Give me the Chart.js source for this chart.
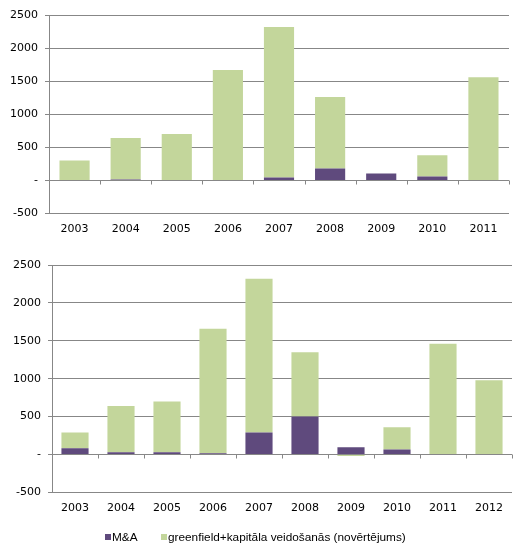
<!DOCTYPE html>
<html>
<head>
<meta charset="utf-8">
<script src="https://cdn.jsdelivr.net/npm/chart.js@4"></script>
<style>
  html, body { margin: 0; padding: 0; background: #fff; }
  #wrap { position: relative; width: 526px; height: 553px; overflow: hidden; }
  .box { position: absolute; left: 0; width: 526px; }
  #topBox { top: 0; height: 240px; }
  #bottomBox { top: 250px; height: 280px; }
  #legend {
    position: absolute; top: 529px; left: 0; width: 526px; height: 16px;
    font: 11.8px 'Liberation Sans', sans-serif; color: #000;
  }
  .item { position: absolute; top: 0; line-height: 16px; white-space: nowrap; }
  .swatch { position: absolute; top: 5px; left: 0; width: 6px; height: 6px; }
  .item span.txt { position: absolute; left: 7px; top: 0; }
</style>
</head>
<body>
<div id="wrap">
  <div class="box" id="topBox"><canvas id="topChart"></canvas></div>
  <div class="box" id="bottomBox"><canvas id="bottomChart"></canvas></div>
  <div id="legend"></div>
</div>
<script>
// ---------- Data ----------
const topYears   = ['2003', '2004', '2005', '2006', '2007', '2008', '2009', '2010', '2011'];
const topMA      = [0, 15, 0, 0, 45, 180, 105, 60, 0];
const topGreen   = [300, 625, 700, 1670, 2275, 1080, 0, 320, 1560];

const bottomYears = ['2003', '2004', '2005', '2006', '2007', '2008', '2009', '2010', '2011', '2012'];
const bottomMA    = [80, 30, 30, 15, 290, 500, 95, 65, 0, 0];
const bottomGreen = [210, 610, 670, 1645, 2030, 850, -20, 295, 1460, 980];

const seriesNames = ['M&A', 'greenfield+kapitāla veidošanās (novērtējums)'];
const yMin = -500, yMax = 2500, yStep = 500;

// ---------- Style ----------
const PURPLE = '#5f4a7d';
const GREEN  = '#c3d69b';
const GRID   = '#878787';
const TICK_FONT = { family: 'DejaVu Sans', size: 11 };

// small tick marks on the zero line between categories (Excel style)
const zeroTicks = {
  id: 'zeroTicks',
  afterDatasetsDraw(chart) {
    const x = chart.scales.x, y = chart.scales.y;
    const y0 = Math.round(y.getPixelForValue(0)) + 0.5;
    const n = chart.data.labels.length;
    const w = (x.right - x.left) / n;
    const ctx = chart.ctx;
    ctx.save();
    ctx.strokeStyle = GRID;
    ctx.lineWidth = 1;
    ctx.beginPath();
    ctx.moveTo(x.left, y0);
    ctx.lineTo(x.right, y0);
    for (let i = 1; i <= n; i++) {
      const px = Math.round(x.left + i * w) + 0.5;
      ctx.moveTo(px, y0);
      ctx.lineTo(px, y0 + 4);
    }
    ctx.stroke();
    ctx.restore();
  }
};

function makeChart(id, labels, ma, green, axisWidth, xHeight, pad) {
  return new Chart(document.getElementById(id), {
    type: 'bar',
    data: {
      labels,
      datasets: [
        { label: seriesNames[0], data: ma,    backgroundColor: PURPLE },
        { label: seriesNames[1], data: green, backgroundColor: GREEN },
      ],
    },
    options: {
      responsive: true,
      maintainAspectRatio: false,
      animation: false,
      layout: { padding: pad },
      datasets: { bar: { categoryPercentage: 0.59, barPercentage: 1 } },
      plugins: {
        legend: { display: false },
        tooltip: { enabled: false },
      },
      scales: {
        x: {
          stacked: true,
          grid: { display: false, drawTicks: false },
          border: { display: false },
          ticks: { color: '#000', font: TICK_FONT, padding: 9, maxRotation: 0 },
          afterFit(scale) { scale.height = xHeight; },
        },
        y: {
          stacked: true,
          min: yMin,
          max: yMax,
          grid: { color: GRID, tickLength: 4 },
          border: { color: GRID },
          ticks: {
            stepSize: yStep,
            color: '#000',
            font: TICK_FONT,
            padding: 7,
            callback: v => (v === 0 ? '-' : v),
          },
          afterFit(scale) { scale.width = axisWidth; },
        },
      },
    },
    plugins: [zeroTicks],
  });
}

makeChart('topChart', topYears, topMA, topGreen, 49, 26.5, { top: 15, right: 17, left: 0, bottom: 0 });
makeChart('bottomChart', bottomYears, bottomMA, bottomGreen, 52, 37.7, { top: 15, right: 14, left: 0, bottom: 0 });

// ---------- Legend (HTML, Excel-like spacing) ----------
const legendEl = document.getElementById('legend');
const legendX  = [105, 161];
[PURPLE, GREEN].forEach((color, i) => {
  const item = document.createElement('div');
  item.className = 'item';
  item.style.left = legendX[i] + 'px';
  item.innerHTML = `<span class="swatch" style="background:${color}"></span><span class="txt"></span>`;
  item.querySelector('.txt').textContent = seriesNames[i];
  legendEl.appendChild(item);
});
</script>
</body>
</html>
